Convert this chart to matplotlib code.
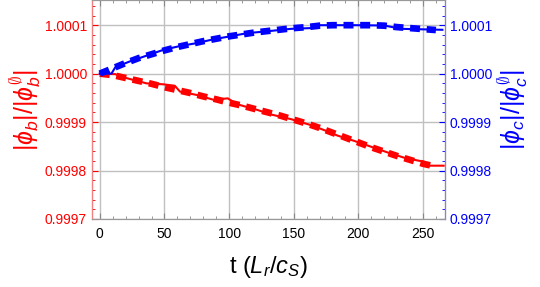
import numpy as np
import matplotlib
matplotlib.use("Agg")
import matplotlib.pyplot as plt
from matplotlib.ticker import MultipleLocator, FormatStrFormatter

plt.rcParams['font.family'] = ['Liberation Sans', 'DejaVu Sans']
plt.rcParams['mathtext.fontset'] = 'custom'
plt.rcParams['mathtext.rm'] = 'Liberation Sans'
plt.rcParams['mathtext.it'] = 'Liberation Sans:italic'

# solid (stepped) curves
red_t = [0, 12, 16, 36, 49, 58, 62, 75, 88, 99, 106, 122, 132, 148, 163, 174, 184, 197, 210, 223, 236, 251, 254, 266]
red_v = [1.0, 0.999999, 0.999994, 0.99998, 0.999978, 0.999975, 0.999963, 0.999956, 0.999946, 0.999949,
         0.999937, 0.999925, 0.999916, 0.999906, 0.999894, 0.999883, 0.999872, 0.999861, 0.999849,
         0.999837, 0.999826, 0.999818, 0.99981, 0.99981]
blue_t = [0, 9, 12, 23, 36, 49, 62, 75, 88, 100, 114, 128, 148, 163, 170, 197, 220, 233, 265]
blue_v = [1.0, 1.0, 1.0000133, 1.000025, 1.000037, 1.000049, 1.000057, 1.000063, 1.000071, 1.0000766,
          1.0000836, 1.000087, 1.0000925, 1.000094, 1.0001, 1.0001, 1.0000994, 1.0000925, 1.0000905]

# dashed (smooth) curves
dash_t = [0, 10, 20, 30, 40, 50, 60, 70, 80, 90, 100, 110, 120, 130, 140, 150, 160, 170, 180,
          190, 200, 210, 220, 230, 240, 250, 260]
red_dash = [1.0, 0.999997, 0.999991, 0.999985, 0.999979, 0.999972, 0.999966, 0.99996, 0.999953,
            0.999947, 0.99994, 0.999934, 0.999927, 0.99992, 0.999913, 0.999905, 0.999897, 0.999888,
            0.999878, 0.999868, 0.999858, 0.999848, 0.999839, 0.99983, 0.999822, 0.999814, 0.999808]
blue_dash = [1.0, 1.000011, 1.000022, 1.000032, 1.00004, 1.000048, 1.000055, 1.000061, 1.000067,
             1.000072, 1.000077, 1.000081, 1.000085, 1.000088, 1.000091, 1.000094, 1.000096,
             1.000099, 1.0001, 1.0001, 1.0001, 1.0001, 1.000099, 1.000096, 1.000094, 1.000092, 1.00009]

fig = plt.figure(figsize=(5.4, 2.87), dpi=100)
ax = fig.add_axes([0.170, 0.237, 0.654, 0.763])
ax2 = ax.twinx()

ax.plot(red_t, red_v, color='red', lw=1.5, zorder=3)
ax.plot(dash_t, red_dash, color='red', lw=4.8, dashes=(1.5, 1.0), solid_capstyle='butt', zorder=3)
ax2.plot(blue_t, blue_v, color='blue', lw=1.5)
ax2.plot(dash_t, blue_dash, color='blue', lw=4.8, dashes=(1.5, 1.0), solid_capstyle='butt')

for a in (ax, ax2):
    a.set_xlim(-6.2, 267)
    a.set_ylim(0.9997, 1.000152)
    a.yaxis.set_major_locator(MultipleLocator(0.0001))
    a.yaxis.set_minor_locator(MultipleLocator(0.00002))
    a.yaxis.set_major_formatter(FormatStrFormatter('%.4f'))

ax.xaxis.set_major_locator(MultipleLocator(50))
ax.xaxis.set_minor_locator(MultipleLocator(10))
ax.grid(True, which='major', color='#c0c0c0', lw=1.0)
ax.set_axisbelow(True)

ax.tick_params(axis='x', which='both', direction='in', top=True, labelsize=10, pad=6)
ax.tick_params(axis='x', which='major', length=4, color='#888888')
ax.tick_params(axis='x', which='minor', length=2, color='#888888')
ax.tick_params(axis='y', which='both', direction='in', colors='red', labelsize=10)
ax.tick_params(axis='y', which='major', length=4)
ax.tick_params(axis='y', which='minor', length=2)
ax2.tick_params(axis='y', which='both', direction='in', colors='blue', labelsize=10)
ax2.tick_params(axis='y', which='major', length=4)
ax2.tick_params(axis='y', which='minor', length=2)

for s in ('top', 'bottom'):
    ax.spines[s].set_color('#999999')
ax2.spines['left'].set_color('#f08080')
ax2.spines['right'].set_color('#8080f0')
ax2.spines['top'].set_color('#999999')
ax2.spines['bottom'].set_color('#999999')

ax.set_xlabel(r'$\mathrm{t}\ (L_r/c_S)$', fontsize=17, labelpad=9)
ax.set_ylabel(r'$|\phi_b|/|\phi_b^{\emptyset}|$', color='red', fontsize=18, labelpad=1)
ax2.set_ylabel(r'$|\phi_c|/|\phi_c^{\emptyset}|$', color='blue', fontsize=18, labelpad=3)

fig.savefig('out.png', dpi=100)
